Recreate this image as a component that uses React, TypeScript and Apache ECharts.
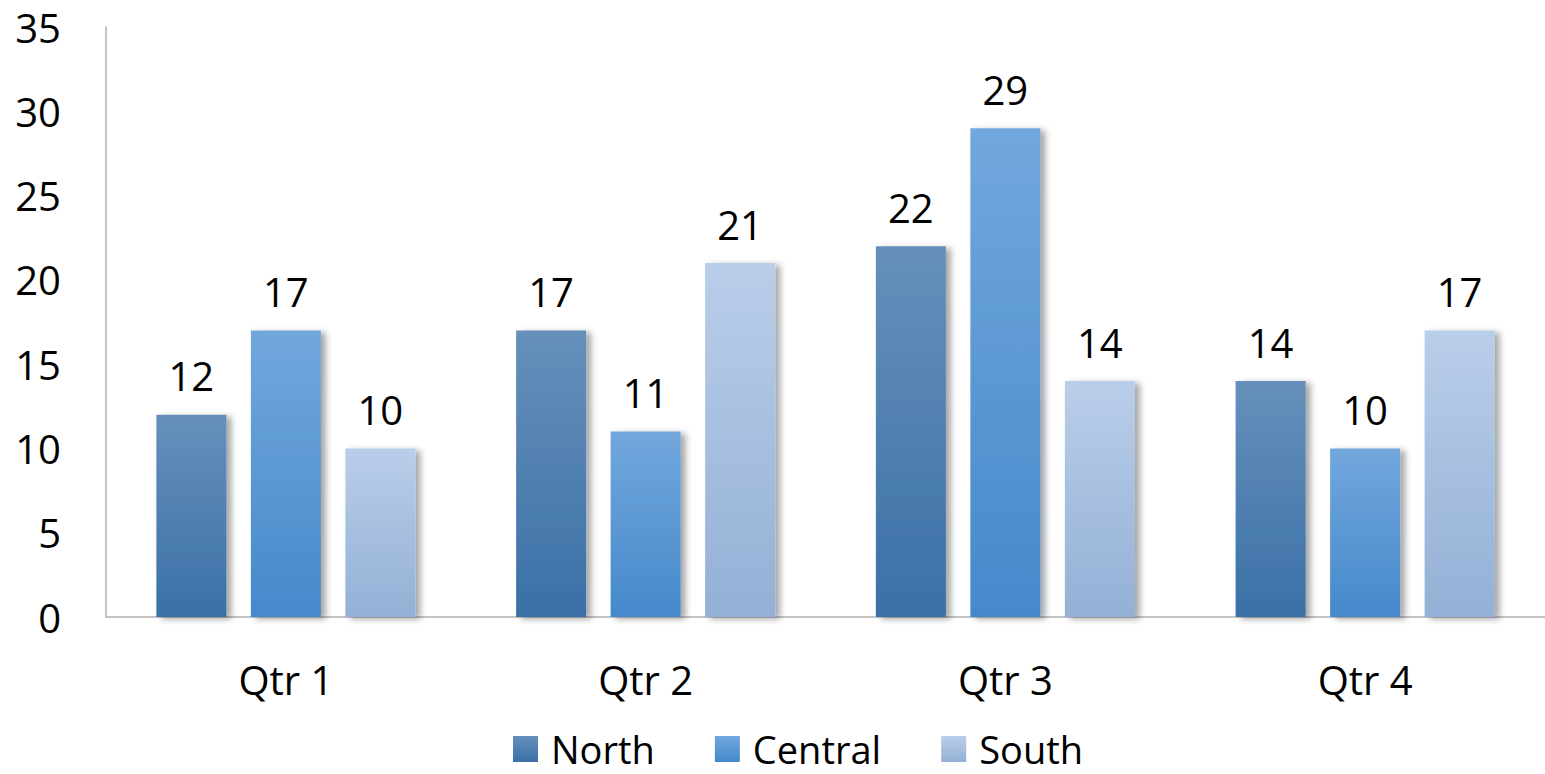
import React, { useEffect, useRef } from "react";
import * as echarts from "echarts";

const categories = ["Qtr 1", "Qtr 2", "Qtr 3", "Qtr 4"];
const north = [12, 17, 22, 14];
const central = [17, 11, 29, 10];
const south = [10, 21, 14, 17];
const seriesNames = ["North", "Central", "South"];

const FONT = "Open Sans";

function grad(top: string, bottom: string) {
  return new echarts.graphic.LinearGradient(0, 0, 0, 1, [
    { offset: 0, color: top },
    { offset: 1, color: bottom },
  ]);
}

export default function App() {
  const ref = useRef<HTMLDivElement>(null);
  useEffect(() => {
    if (!ref.current) return;
    const chart = echarts.init(ref.current, undefined, { renderer: "svg" });
    const colors = [
      grad("#6690bb", "#3a70a7"),
      grad("#72a7dd", "#4589cb"),
      grad("#b9cee9", "#94b0d6"),
    ];
    const mk = (name: string, data: number[], i: number) => ({
      name,
      type: "bar",
      data,
      barWidth: 70,
      barGap: "35%",
      itemStyle: {
        color: colors[i],
        shadowBlur: 6,
        shadowOffsetX: 5,
        shadowOffsetY: 2,
        shadowColor: "rgba(0,0,0,0.35)",
      },
      label: {
        show: true,
        position: "top",
        distance: 19,
        color: "#000",
        fontFamily: FONT,
        fontSize: 40,
      },
    });
    chart.setOption({
      animation: false,
      backgroundColor: "#fff",
      grid: { left: 106, right: -5, top: 27, bottom: 157, containLabel: false },
      legend: {
        data: seriesNames,
        left: 513,
        top: 730,
        padding: 0,
        icon: "rect",
        itemWidth: 25,
        itemHeight: 26,
        itemGap: 60,
        textStyle: {
          fontFamily: FONT,
          fontSize: 38,
          lineHeight: 36,
          color: "#000",
          padding: [0, 0, 0, 8],
        },
      },
      xAxis: {
        type: "category",
        data: categories,
        axisLine: { show: true, lineStyle: { color: "#b0b0b0", width: 1.5 } },
        axisTick: { show: false },
        axisLabel: {
          color: "#000",
          fontFamily: FONT,
          fontSize: 40,
          margin: 42,
        },
      },
      yAxis: {
        type: "value",
        min: 0,
        max: 35,
        interval: 5,
        splitLine: { show: false },
        axisLine: { show: true, lineStyle: { color: "#b0b0b0", width: 1.5 } },
        axisTick: { show: false },
        axisLabel: {
          color: "#000",
          fontFamily: FONT,
          fontSize: 40,
          margin: 45,
        },
      },
      series: [
        mk(seriesNames[0], north, 0),
        mk(seriesNames[1], central, 1),
        mk(seriesNames[2], south, 2),
      ],
    });
    return () => chart.dispose();
  }, []);
  return (
    <div
      ref={ref}
      style={{ position: "fixed", left: 0, top: 0, width: 1545, height: 774 }}
    />
  );
}
